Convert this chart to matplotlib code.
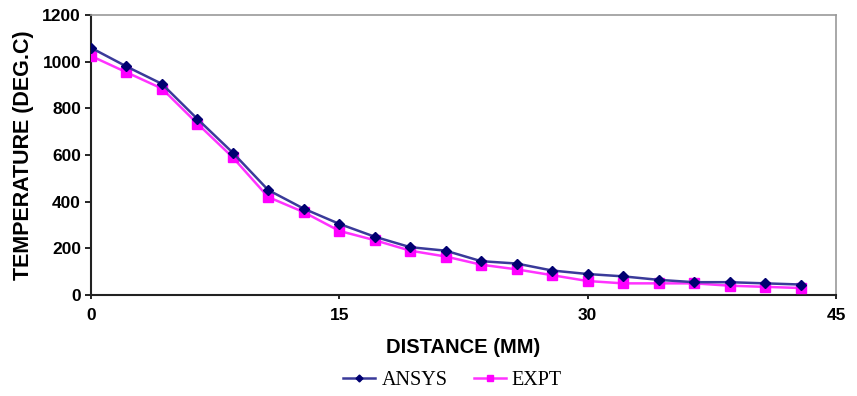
import numpy as np
import matplotlib.pyplot as plt

# distance positions (mm): 21 readings evenly spaced over 0..42.9
distance = [0, 2.14, 4.29, 6.43, 8.57, 10.71, 12.86, 15.0, 17.14, 19.29, 21.43,
            23.57, 25.71, 27.86, 30.0, 32.14, 34.29, 36.43, 38.57, 40.71, 42.86]
ansys = [1060, 980, 905, 755, 610, 450, 370, 305, 250, 205, 190,
         145, 135, 105, 90, 80, 65, 55, 55, 50, 45]
expt = [1025, 955, 885, 735, 590, 420, 355, 275, 235, 190, 165,
        130, 110, 85, 60, 50, 50, 50, 40, 35, 30]

x_ticks = [0, 15, 30, 45]
y_ticks = [0, 200, 400, 600, 800, 1000, 1200]

fig = plt.figure(figsize=(8.57, 3.96), dpi=100)
ax = fig.add_axes([0.106, 0.255, 0.8695, 0.707])

ax.plot(distance, ansys, color='#3a3a9a', linewidth=1.8, marker='D',
        markersize=5, markerfacecolor='#000070', markeredgecolor='#000070',
        label='ANSYS', zorder=4)
ax.plot(distance, expt, color='#ff33ff', linewidth=1.8, marker='s',
        markersize=7, markerfacecolor='#ff00ff', markeredgecolor='#ff00ff',
        label='EXPT', zorder=3)

ax.set_xlim(0, 45)
ax.set_ylim(0, 1200)
ax.set_xticks(x_ticks)
ax.set_yticks(y_ticks)

for lab in ax.get_xticklabels() + ax.get_yticklabels():
    lab.set_fontfamily('Liberation Sans')
    lab.set_fontweight('bold')
    lab.set_fontsize(12.5)

ax.tick_params(axis='x', direction='out', length=3, width=1.2, pad=6)
ax.tick_params(axis='y', direction='out', length=4, width=1.2, pad=3)

ax.spines['left'].set_color('#222222')
ax.spines['bottom'].set_color('#222222')
ax.spines['left'].set_linewidth(1.5)
ax.spines['bottom'].set_linewidth(1.5)
ax.spines['top'].set_color('#999999')
ax.spines['right'].set_color('#999999')
ax.spines['top'].set_linewidth(1.2)
ax.spines['right'].set_linewidth(1.2)

ax.set_ylabel('TEMPERATURE (DEG.C)', fontsize=15.5, fontweight='bold',
              family='Liberation Sans', labelpad=6)
ax.set_xlabel('DISTANCE (MM)', fontsize=14.5, fontweight='bold',
              family='Liberation Sans', labelpad=11)

leg = fig.legend(loc='center', bbox_to_anchor=(0.528, 0.04), ncol=2,
                 frameon=False, prop={'family': 'Liberation Serif', 'size': 14.5},
                 handlelength=1.6, columnspacing=1.3, handletextpad=0.3,
                 markerscale=0.7)

fig.savefig('out.png', dpi=100, facecolor='white')
